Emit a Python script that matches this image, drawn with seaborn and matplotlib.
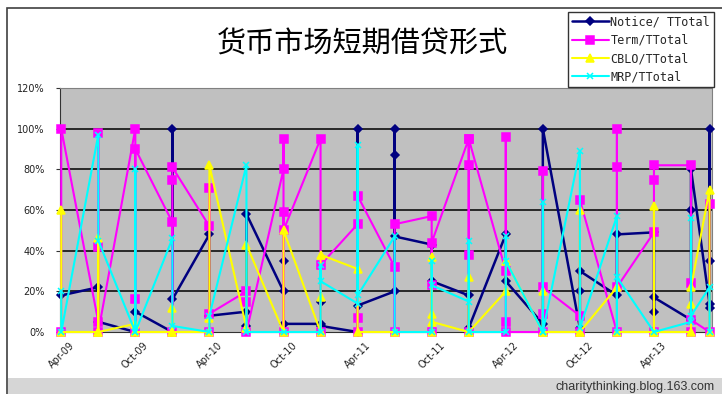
import matplotlib
matplotlib.use("Agg")
import matplotlib.pyplot as plt
import seaborn as sns
from matplotlib.patches import Rectangle

# columns of the chart (months after Apr-09); several readings share a column
months = [0, 3, 6, 9, 12, 15, 18, 21, 24, 27, 30, 33, 36, 39, 42, 45, 48, 51, 52.5]
tick_months = [0, 6, 12, 18, 24, 30, 36, 42, 48]
tick_labels = ["Apr-09", "Oct-09", "Apr-10", "Oct-10", "Apr-11",
               "Oct-11", "Apr-12", "Oct-12", "Apr-13"]

# values in %, in drawing order inside each column
notice = [[18], [22, 5], [0, 10], [0, 100, 16], [48, 8], [10, 3, 58],
          [20, 35, 4], [4, 15, 3], [0, 100, 13], [20, 100, 87, 47], [43, 25],
          [18, 2], [48, 25], [4, 100], [2, 20, 30], [18, 48], [49, 10, 17],
          [6, 60, 80], [14, 35, 100, 12]]
term = [[0, 100], [5, 98, 42, 0], [100, 16, 0, 90], [54, 0, 75, 81],
        [52, 71, 0, 9], [20, 15, 0], [80, 95, 0, 59, 50], [95, 0, 33],
        [53, 7, 0, 67], [32, 0, 53], [57, 0, 23, 44], [95, 0, 38, 82, 95],
        [30, 96, 5, 0], [0, 79, 9, 22], [8, 0, 65], [0, 100, 81, 22],
        [49, 0, 75, 82], [82, 24, 0, 6], [0, 63]]
cblo = [[60, 0], [0, 46, 0], [4, 0], [0, 12, 0], [0, 7, 82], [2, 43],
        [0, 50], [0, 17, 38], [31, 0], [0], [0, 37, 9, 5], [0, 27, 0],
        [20, 35], [0, 20, 0], [0, 60, 0], [22, 0], [0, 62, 0], [0, 14, 22],
        [70, 0]]
mrp = [[20, 0], [97, 45], [0, 80, 0], [46, 3], [0, 8], [82, 0], [0],
       [0, 33, 25], [14, 92, 18], [47, 0], [0, 35, 23], [15, 45, 0],
       [0, 47, 35], [0, 64, 0], [89, 2], [57, 0, 27], [0], [5, 56, 8],
       [22, 0]]

series_names = ["Notice/ TTotal", "Term/TTotal", "CBLO/TTotal", "MRP/TTotal"]
series_data = [notice, term, cblo, mrp]
colors = ["#000080", "#ff00ff", "#ffff00", "#00ffff"]
markers = ["D", "s", "^", "x"]
msizes = [4, 5.5, 5.5, 4.5]
widths = [1.8, 1.5, 1.5, 1.5]


def expand(cols):
    xs, ys = [], []
    for m, vals in zip(months, cols):
        for v in vals:
            xs.append(m)
            ys.append(v)
    return xs, ys


sns.set_style("white")
plt.rcParams["font.family"] = ["DejaVu Sans"]

W, H = 722, 394
fig = plt.figure(figsize=(W / 100, H / 100), dpi=100)
fig.patch.set_facecolor("white")

# bottom grey band and outer frame
fig.patches.append(Rectangle((8 / W, 0), 1, 16 / H, transform=fig.transFigure,
                             facecolor="#d6d6d6", edgecolor="none", zorder=0))
fig.patches.append(Rectangle((7 / W, -0.05), 1, 1 - 8 / H + 0.05,
                             transform=fig.transFigure, fill=False,
                             edgecolor="#404040", lw=1.2, zorder=1))

ax = fig.add_axes([60 / W, 62 / H, 652 / W, 244 / H])
ax.set_facecolor("#c0c0c0")

for i, (name, cols) in enumerate(zip(series_names, series_data)):
    xs, ys = expand(cols)
    sns.lineplot(x=xs, y=ys, sort=False, estimator=None, ax=ax,
                 color=colors[i], marker=markers[i], markersize=msizes[i],
                 markeredgecolor=colors[i], markeredgewidth=1.1,
                 lw=widths[i], label=name, clip_on=False, zorder=3 + i)

ax.set_xlim(-0.1, 52.7)
ax.set_ylim(0, 120)
ax.set_yticks(range(0, 121, 20))
ax.set_yticklabels([f"{v}%" for v in range(0, 121, 20)], fontsize=7, color="#222222")
ax.set_xticks(tick_months)
ax.set_xticklabels(tick_labels, rotation=45, ha="center", va="top", fontsize=7,
                   color="#222222")
ax.tick_params(axis="y", length=3, pad=8, left=True, color="#333333")
ax.tick_params(axis="x", length=0, pad=6)
ax.set_xlabel("")
ax.set_ylabel("")

for v in range(20, 101, 20):
    ax.axhline(v, color="black", lw=1.1, zorder=1)
for s in ["top", "right"]:
    ax.spines[s].set_color("#808080")
ax.spines["left"].set_color("#333333")
ax.spines["bottom"].set_color("#333333")

handles, labels = ax.get_legend_handles_labels()
ax.get_legend().remove()
leg = fig.legend(handles, labels, loc="upper left",
                 bbox_to_anchor=(568 / W, 1 - 12 / H),
                 prop={"family": "DejaVu Sans Mono", "size": 8.5},
                 frameon=True, fancybox=False, edgecolor="black",
                 borderpad=0.3, labelspacing=0.45, handlelength=3.2,
                 handletextpad=0.1, borderaxespad=0)
leg.get_frame().set_linewidth(1.0)

fig.text(362 / W, 1 - 45 / H, "货币市场短期借贷形式", ha="center", va="center",
         fontsize=21, color="black", family=["Noto Sans CJK SC", "DejaVu Sans"])
fig.text(715 / W, 7 / H, "charitythinking.blog.163.com", ha="right",
         va="center", fontsize=9, color="#333333", family="Liberation Sans")

fig.savefig("out.png", dpi=100)
